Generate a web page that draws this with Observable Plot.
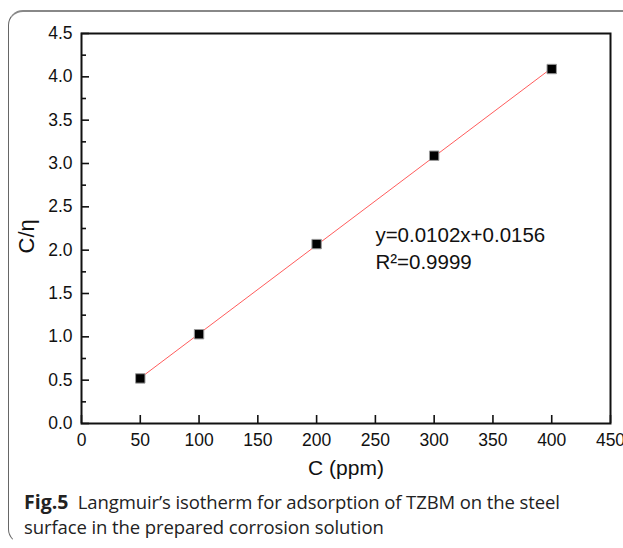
<!DOCTYPE html>
<html>
<head>
<meta charset="utf-8">
<script src="https://cdn.jsdelivr.net/npm/d3@7"></script>
<script src="https://cdn.jsdelivr.net/npm/@observablehq/plot@0.6"></script>
<style>
  html, body { margin: 0; padding: 0; background: #fff; }
  #wrap { position: relative; width: 623px; height: 548px; overflow: hidden; background: #fff; }
  #box { position: absolute; left: 8px; top: 10px; width: 720px; height: 534px;
         border: 1px solid #666; border-top: 2px solid #888; border-bottom-color: transparent;
         border-radius: 15px 0 0 15px; box-sizing: border-box; }
  #chart { position: absolute; left: 0; top: 0; }
  #caption { position: absolute; left: 24px; top: 489px; width: 598px;
             font-family: "Open Sans", sans-serif; font-size: 18.5px; line-height: 25px;
             color: #222; letter-spacing: -0.1px; white-space: nowrap; }
  #caption b { font-weight: 700; letter-spacing: 0; font-size: 19.5px; }
</style>
</head>
<body>
<div id="wrap">
  <div id="box"></div>
  <div id="chart"></div>
  <div id="caption"><b>Fig.5</b>&nbsp; Langmuir’s isotherm for adsorption of TZBM on the steel<br>surface in the prepared corrosion solution</div>
</div>
<script>
// Data
const concentration = [50, 100, 200, 300, 400];          // C (ppm)
const cOverEta = [0.52, 1.03, 2.07, 3.09, 4.09];          // C/η
const xTicks = [0, 50, 100, 150, 200, 250, 300, 350, 400, 450];
const yTicks = [0, 0.5, 1.0, 1.5, 2.0, 2.5, 3.0, 3.5, 4.0, 4.5];
const yMinorTicks = [0.25, 0.75, 1.25, 1.75, 2.25, 2.75, 3.25, 3.75, 4.25];
const fitLabels = ["y=0.0102x+0.0156", "R²=0.9999"];
const fitLabelX = [250, 250];
const fitLabelY = [2.17, 1.86];

const points = concentration.map((c, i) => ({c, v: cOverEta[i]}));
const labels = fitLabels.map((t, i) => ({t, x: fitLabelX[i], y: fitLabelY[i]}));

const font = "'Liberation Sans', Arial, sans-serif";

const chart = Plot.plot({
  width: 623,
  height: 490,
  marginLeft: 81,
  marginRight: 13,
  marginTop: 33,
  marginBottom: 67,
  style: {fontFamily: font, color: "#111", background: "transparent", fontSize: "17.5px"},
  x: {domain: [0, 450]},
  y: {domain: [0, 4.5]},
  marks: [
    Plot.frame({stroke: "#111", strokeWidth: 2}),
    // inward major ticks
    Plot.axisX({ticks: xTicks, tickSize: -8, text: null, label: null, strokeWidth: 1.6}),
    Plot.axisY({ticks: yTicks, tickSize: -8, text: null, label: null, strokeWidth: 1.6}),
    Plot.axisY({ticks: yMinorTicks, tickSize: -5, text: null, label: null, strokeWidth: 1.6}),
    // labels
    Plot.axisX({ticks: xTicks, tickSize: 0, tickPadding: 10, label: null, fontSize: 17.5, tickFormat: d3.format("d")}),
    Plot.axisY({ticks: yTicks, tickSize: 0, tickPadding: 9, label: null, fontSize: 17.5, tickFormat: d3.format(".1f")}),
    Plot.text(["C (ppm)"], {frameAnchor: "bottom", dy: 51, fontSize: 21, fill: "#111"}),
    Plot.text(["C/η"], {frameAnchor: "left", dx: -55, dy: 25, rotate: -90, fontSize: 22, fill: "#111"}),
    // fit line
    Plot.linearRegressionY(points, {x: "c", y: "v", ci: 0, stroke: "#ff4040", strokeWidth: 1, strokeOpacity: 0.85}),
    // data
    Plot.dot(points, {x: "c", y: "v", symbol: "square", r: 5.3, fill: "#000", stroke: "#999", strokeWidth: 1}),
    // annotation
    Plot.text(labels, {x: "x", y: "y", text: "t", textAnchor: "start", fontSize: 20.5, fill: "#111"})
  ]
});
document.getElementById("chart").appendChild(chart);
</script>
</body>
</html>
